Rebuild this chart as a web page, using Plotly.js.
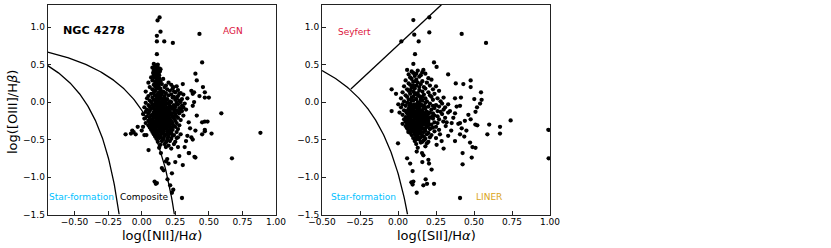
<!DOCTYPE html>
<html>
<head>
<meta charset="utf-8">
<script src="https://cdn.plot.ly/plotly-3.0.1.min.js"></script>
<style>html,body{margin:0;padding:0;background:#fff;}#plot{width:831px;height:248px;}</style>
</head>
<body>
<div id="plot"></div>
<script>
// ---------- data: [log([NII]/Ha), log([OIII]/Hb)] ----------
const niiCore = [
[0.09,0.51],[0.10,0.49],[0.12,0.50],[0.08,0.46],[0.115,0.47],[0.13,0.45],[0.10,0.43],[0.12,0.42],[0.14,0.44],
[0.085,0.39],[0.105,0.40],[0.125,0.38],[0.135,0.41],[0.09,0.36],[0.10,0.37],[0.11,0.35],[0.12,0.37],[0.13,0.36],
[0.095,0.33],[0.115,0.34],[0.13,0.32],[0.07,0.33],[0.08,0.29],[0.11,0.30],[0.14,0.28],[0.16,0.31],
[0.05,0.26],[0.10,0.27],[0.12,0.25],[0.13,0.27],[0.20,0.26],[0.09,0.23],[0.15,0.24],[0.18,0.22],[0.22,0.23],
[0.06,0.20],[0.11,0.21],[0.13,0.19],[0.17,0.20],[0.26,0.21],[0.08,0.17],[0.12,0.18],[0.14,0.16],[0.19,0.17],[0.23,0.18],
[0.03,0.14],[0.10,0.15],[0.13,0.13],[0.16,0.14],[0.21,0.15],[0.25,0.13],
[0.07,0.11],[0.09,0.12],[0.12,0.10],[0.15,0.11],[0.18,0.12],[0.22,0.10],[0.28,0.11],
[0.05,0.08],[0.10,0.09],[0.13,0.07],[0.17,0.08],[0.20,0.09],[0.24,0.07],[0.27,0.08],
[0.04,0.05],[0.08,0.06],[0.11,0.04],[0.14,0.06],[0.16,0.05],[0.19,0.04],[0.23,0.06],[0.26,0.05],[0.30,0.04],
[0.06,0.02],[0.09,0.03],[0.12,0.01],[0.15,0.03],[0.18,0.02],[0.21,0.01],[0.25,0.03],[0.28,0.02],
[0.03,-0.01],[0.07,0.00],[0.10,-0.02],[0.12,0.00],[0.14,-0.01],[0.17,0.00],[0.20,-0.02],[0.22,0.00],[0.26,-0.01],[0.29,0.00],[0.32,-0.02],
[0.05,-0.04],[0.08,-0.03],[0.11,-0.05],[0.13,-0.03],[0.15,-0.04],[0.18,-0.03],[0.21,-0.05],[0.24,-0.04],[0.27,-0.03],[0.30,-0.05],
[0.02,-0.07],[0.06,-0.06],[0.09,-0.08],[0.12,-0.06],[0.14,-0.07],[0.16,-0.06],[0.19,-0.08],[0.22,-0.07],[0.25,-0.06],[0.28,-0.08],[0.31,-0.07],
[0.04,-0.10],[0.07,-0.09],[0.10,-0.11],[0.12,-0.09],[0.13,-0.10],[0.15,-0.09],[0.17,-0.11],[0.20,-0.10],[0.23,-0.09],[0.26,-0.11],[0.29,-0.10],
[0.03,-0.13],[0.06,-0.12],[0.09,-0.14],[0.11,-0.12],[0.13,-0.13],[0.14,-0.12],[0.16,-0.14],[0.18,-0.13],[0.21,-0.12],[0.24,-0.14],[0.27,-0.13],[0.30,-0.12],
[0.01,-0.16],[0.05,-0.15],[0.08,-0.17],[0.10,-0.15],[0.12,-0.16],[0.14,-0.15],[0.15,-0.17],[0.17,-0.16],[0.19,-0.15],[0.22,-0.17],[0.25,-0.16],[0.28,-0.15],
[0.04,-0.19],[0.07,-0.18],[0.09,-0.20],[0.11,-0.18],[0.13,-0.19],[0.15,-0.18],[0.16,-0.20],[0.18,-0.19],[0.20,-0.18],[0.23,-0.20],[0.26,-0.19],[0.31,-0.18],
[0.02,-0.22],[0.06,-0.21],[0.08,-0.23],[0.10,-0.21],[0.12,-0.22],[0.14,-0.21],[0.16,-0.23],[0.17,-0.22],[0.19,-0.21],[0.21,-0.23],[0.24,-0.22],[0.27,-0.21],
[0.05,-0.25],[0.07,-0.24],[0.09,-0.26],[0.11,-0.24],[0.13,-0.25],[0.15,-0.24],[0.17,-0.26],[0.18,-0.25],[0.20,-0.24],[0.22,-0.26],[0.25,-0.25],[0.29,-0.24],
[0.03,-0.28],[0.06,-0.27],[0.08,-0.29],[0.10,-0.27],[0.12,-0.28],[0.14,-0.27],[0.16,-0.29],[0.18,-0.28],[0.20,-0.27],[0.23,-0.29],[0.26,-0.28],
[0.05,-0.31],[0.07,-0.30],[0.09,-0.32],[0.11,-0.30],[0.13,-0.31],[0.15,-0.30],[0.17,-0.32],[0.19,-0.31],[0.21,-0.30],[0.24,-0.32],[0.28,-0.31],
[0.06,-0.34],[0.08,-0.33],[0.10,-0.35],[0.12,-0.33],[0.14,-0.34],[0.16,-0.33],[0.18,-0.35],[0.22,-0.34],[0.25,-0.33],
[0.07,-0.37],[0.09,-0.36],[0.11,-0.38],[0.13,-0.36],[0.15,-0.37],[0.17,-0.36],[0.20,-0.38],[0.23,-0.37],[0.27,-0.36],
[0.08,-0.40],[0.10,-0.39],[0.12,-0.41],[0.14,-0.39],[0.16,-0.40],[0.19,-0.39],[0.22,-0.41],[0.26,-0.40],
[0.09,-0.43],[0.11,-0.42],[0.13,-0.44],[0.15,-0.42],[0.18,-0.43],[0.21,-0.42],[0.24,-0.44],[0.29,-0.43],
[0.10,-0.46],[0.12,-0.45],[0.14,-0.47],[0.17,-0.45],[0.20,-0.46],[0.23,-0.45],[0.27,-0.47],
[0.11,-0.49],[0.13,-0.48],[0.16,-0.50],[0.19,-0.48],[0.22,-0.49],[0.26,-0.48],
[0.12,-0.53],[0.15,-0.52],[0.18,-0.54],[0.21,-0.52],[0.25,-0.53],
[0.14,-0.57],[0.17,-0.56],[0.20,-0.58],[0.24,-0.56],[0.13,-0.61],[0.18,-0.60],[0.22,-0.62],[0.27,-0.60]
];
const niiDense = [
[0.085,-0.05],[0.095,-0.12],[0.105,-0.17],[0.115,-0.24],[0.125,-0.29],[0.135,-0.33],[0.145,-0.2],[0.155,-0.26],[0.165,-0.31],[0.175,-0.14],[0.185,-0.22],[0.195,-0.28],
[0.09,-0.27],[0.1,-0.31],[0.11,-0.09],[0.12,-0.03],[0.13,-0.16],[0.14,-0.29],[0.15,-0.35],[0.16,-0.11],[0.17,-0.19],[0.18,-0.24],[0.19,-0.07],[0.2,-0.33],
[0.095,-0.2],[0.105,-0.26],[0.115,-0.14],[0.125,-0.07],[0.135,-0.23],[0.145,-0.28],[0.155,-0.13],[0.165,-0.04],[0.175,-0.27],[0.185,-0.35],[0.195,-0.17],[0.205,-0.21],
[0.088,-0.16],[0.098,-0.36],[0.108,-0.04],[0.118,-0.19],[0.128,-0.38],[0.138,-0.11],[0.148,-0.05],[0.158,-0.39],[0.168,-0.25],[0.178,-0.08],[0.188,-0.29],[0.198,-0.13],
[0.102,0.02],[0.112,0.07],[0.122,0.12],[0.132,0.04],[0.142,0.09],[0.152,-0.02],[0.162,0.01],[0.172,0.05],[0.182,-0.01],
[0.092,0.15],[0.102,0.2],[0.112,0.25],[0.118,0.3],[0.108,0.33],[0.098,0.38],[0.128,0.23],[0.138,0.18],[0.148,0.14],[0.09,0.42],[0.105,0.45],[0.1,0.35],
[0.215,-0.15],[0.225,-0.27],[0.235,-0.19],[0.215,-0.36],[0.225,-0.08],[0.235,-0.32],[0.245,-0.1],[0.2,-0.41],[0.17,-0.43],[0.14,-0.45],[0.16,-0.48],[0.19,-0.51]
];
const niiOutliers = [
[0.133,1.13],[0.118,1.09],[0.14,0.94],[0.113,0.885],[0.113,0.81],[0.168,0.81],[0.232,0.79],[0.43,0.91],[0.113,0.64],[0.45,0.53],
[0.40,0.38],[0.41,0.29],[0.456,0.20],[0.306,0.24],[0.236,0.20],[0.241,0.14],[0.37,0.15],[0.38,0.11],[0.39,0.13],[0.47,0.13],[0.47,0.06],[0.50,0.06],[0.43,0.08],
[0.593,-0.15],[0.45,-0.27],[0.47,-0.26],[0.49,-0.26],[0.47,-0.37],[0.47,-0.39],[0.45,-0.43],[0.52,-0.42],[0.884,-0.41],[0.672,-0.75],[0.393,-0.73],[0.353,-0.68],[0.306,-0.84],
[-0.12,-0.43],[-0.06,-0.40],[-0.045,-0.43],[-0.03,-0.33],[0.0,-0.38],[0.02,-0.44],[0.035,-0.44],[-0.07,-0.38],[-0.08,-0.42],[0.01,-0.33],
[0.051,-0.64],[0.143,-0.68],[0.163,-0.91],[0.18,-0.79],[0.225,-0.95],[0.096,-1.06],[0.105,-1.09],[0.113,-1.08],[0.192,-1.03],[0.212,-1.11],[0.3,-1.28],[0.225,-1.21],
[0.35,-0.68],[0.40,-0.74],[0.2,-0.82],[0.19,-0.76],[0.25,-0.80],[0.28,-0.72],[0.32,-0.60],[0.34,-0.45],[0.37,-0.47],[0.38,-0.50],[0.33,-0.52],[0.40,-0.38],
[0.35,-0.27],[0.36,-0.35],[0.41,-0.18],[0.38,-0.05],[0.39,0.0],[0.34,0.05],[0.31,0.10],[0.27,0.16],[0.29,0.12],[0.33,-0.10],[0.15,-0.88],[0.235,-1.17]
];
// ---------- data: [log([SII]/Ha), log([OIII]/Hb)] ----------
const siiCore = [
[0.06,0.43],[0.09,0.41],[0.13,0.42],[0.16,0.40],[0.07,0.37],[0.10,0.39],[0.12,0.38],[0.15,0.36],[0.18,0.38],
[0.08,0.33],[0.11,0.35],[0.14,0.34],[0.20,0.32],[0.05,0.29],[0.09,0.31],[0.12,0.30],[0.16,0.28],[0.22,0.30],
[0.07,0.25],[0.10,0.27],[0.13,0.26],[0.15,0.24],[0.19,0.26],[0.04,0.21],[0.08,0.23],[0.12,0.22],[0.17,0.20],[0.21,0.22],[0.25,0.21],
[0.06,0.17],[0.09,0.19],[0.11,0.18],[0.14,0.16],[0.18,0.18],[0.23,0.17],
[0.03,0.13],[0.07,0.15],[0.10,0.14],[0.13,0.12],[0.16,0.14],[0.20,0.13],[0.27,0.15],
[0.05,0.09],[0.08,0.11],[0.11,0.10],[0.14,0.08],[0.17,0.10],[0.21,0.09],[0.24,0.11],
[0.02,0.05],[0.06,0.07],[0.09,0.06],[0.12,0.04],[0.15,0.06],[0.18,0.05],[0.22,0.07],[0.26,0.05],[0.30,0.06],
[0.04,0.01],[0.07,0.03],[0.10,0.02],[0.13,0.00],[0.16,0.02],[0.19,0.01],[0.23,0.03],[0.28,0.01],
[0.03,-0.03],[0.06,-0.01],[0.08,-0.02],[0.11,-0.04],[0.13,-0.02],[0.15,-0.03],[0.18,-0.01],[0.21,-0.02],[0.25,-0.04],[0.29,-0.02],[0.33,-0.03],
[0.02,-0.07],[0.05,-0.05],[0.08,-0.06],[0.10,-0.08],[0.12,-0.06],[0.14,-0.07],[0.17,-0.05],[0.20,-0.06],[0.24,-0.08],[0.27,-0.06],[0.31,-0.07],
[0.04,-0.11],[0.07,-0.09],[0.09,-0.10],[0.11,-0.12],[0.13,-0.10],[0.15,-0.11],[0.18,-0.09],[0.22,-0.10],[0.26,-0.12],[0.30,-0.10],
[0.01,-0.14],[0.05,-0.12],[0.08,-0.13],[0.10,-0.15],[0.12,-0.13],[0.14,-0.14],[0.16,-0.12],[0.19,-0.13],[0.23,-0.15],[0.28,-0.13],[0.33,-0.14],
[0.03,-0.17],[0.06,-0.15],[0.09,-0.16],[0.11,-0.18],[0.13,-0.16],[0.15,-0.17],[0.17,-0.15],[0.20,-0.16],[0.24,-0.18],[0.29,-0.16],
[0.05,-0.20],[0.07,-0.18],[0.09,-0.19],[0.11,-0.21],[0.13,-0.19],[0.14,-0.20],[0.16,-0.18],[0.18,-0.19],[0.21,-0.21],[0.26,-0.19],
[0.04,-0.23],[0.06,-0.21],[0.08,-0.22],[0.10,-0.24],[0.12,-0.22],[0.14,-0.23],[0.15,-0.21],[0.17,-0.22],[0.19,-0.24],[0.23,-0.22],[0.27,-0.23],[0.31,-0.21],
[0.05,-0.26],[0.07,-0.24],[0.09,-0.25],[0.11,-0.27],[0.13,-0.25],[0.15,-0.26],[0.17,-0.24],[0.20,-0.25],[0.24,-0.27],
[0.03,-0.29],[0.06,-0.27],[0.08,-0.28],[0.10,-0.30],[0.12,-0.28],[0.14,-0.29],[0.16,-0.27],[0.18,-0.28],[0.22,-0.30],[0.26,-0.28],
[0.05,-0.32],[0.07,-0.30],[0.09,-0.31],[0.11,-0.33],[0.13,-0.31],[0.15,-0.32],[0.17,-0.30],[0.20,-0.31],[0.25,-0.33],
[0.06,-0.35],[0.08,-0.33],[0.10,-0.34],[0.12,-0.36],[0.14,-0.34],[0.16,-0.35],[0.19,-0.33],[0.23,-0.34],
[0.07,-0.38],[0.09,-0.36],[0.11,-0.37],[0.13,-0.39],[0.15,-0.37],[0.18,-0.38],[0.21,-0.36],[0.27,-0.37],
[0.08,-0.41],[0.10,-0.39],[0.12,-0.40],[0.14,-0.42],[0.17,-0.40],[0.20,-0.41],[0.24,-0.39],
[0.09,-0.44],[0.11,-0.42],[0.13,-0.43],[0.16,-0.45],[0.19,-0.43],[0.22,-0.44],
[0.10,-0.48],[0.12,-0.46],[0.15,-0.47],[0.18,-0.49],[0.21,-0.47],[0.25,-0.48],
[0.11,-0.52],[0.14,-0.50],[0.17,-0.51],[0.20,-0.53],[0.12,-0.56],[0.15,-0.54],[0.19,-0.55],[0.13,-0.61],[0.18,-0.59]
];
const siiDense = [
[0.075,-0.05],[0.085,-0.12],[0.095,-0.17],[0.105,-0.24],[0.115,-0.29],[0.125,-0.33],[0.135,-0.2],[0.145,-0.26],[0.155,-0.31],[0.165,-0.14],[0.175,-0.22],[0.185,-0.28],
[0.08,-0.27],[0.09,-0.31],[0.1,-0.09],[0.11,-0.03],[0.12,-0.16],[0.13,-0.29],[0.14,-0.35],[0.15,-0.11],[0.16,-0.19],[0.17,-0.24],[0.18,-0.07],[0.19,-0.33],
[0.085,-0.2],[0.095,-0.26],[0.105,-0.14],[0.115,-0.07],[0.125,-0.23],[0.135,-0.28],[0.145,-0.13],[0.155,-0.04],[0.165,-0.27],[0.175,-0.35],[0.185,-0.17],[0.195,-0.21],
[0.078,-0.16],[0.088,-0.36],[0.098,-0.04],[0.108,-0.19],[0.118,-0.38],[0.128,-0.11],[0.138,-0.05],[0.148,-0.39],[0.158,-0.25],[0.168,-0.08],[0.178,-0.29],[0.188,-0.13],
[0.065,-0.22],[0.07,-0.33],[0.062,-0.12],[0.058,-0.28],[0.068,-0.4],[0.2,-0.28],[0.21,-0.14],[0.215,-0.35],[0.225,-0.19],[0.23,-0.05],
[0.09,0.02],[0.1,0.07],[0.11,0.12],[0.12,0.04],[0.13,0.09],[0.14,-0.01],[0.15,0.03],[0.16,0.07],[0.08,0.16],[0.1,0.22],[0.12,0.28],[0.14,0.2],
[0.11,-0.43],[0.13,-0.47],[0.15,-0.42],[0.17,-0.46],[0.12,-0.5],[0.16,-0.53]
];
const siiOutliers = [
[0.101,1.095],[0.206,1.13],[0.206,0.93],[0.107,0.90],[0.136,0.81],[0.022,0.81],[0.419,0.91],[0.579,0.79],[0.112,0.64],
[0.101,0.51],[0.167,0.43],[0.237,0.53],[0.254,0.47],[0.33,0.37],[0.38,0.25],[0.43,0.24],[0.478,0.29],[0.478,0.20],
[-0.042,0.17],[-0.013,0.11],[0.375,0.05],[0.414,0.06],[0.546,0.13],[0.55,0.03],[0.54,-0.02],[0.52,-0.07],[0.51,-0.13],[0.502,0.04],
[0.741,-0.245],[0.60,-0.30],[0.671,-0.33],[0.671,-0.42],[0.588,-0.43],[0.989,-0.37],[0.991,-0.75],[0.0,-0.55],[-0.042,-0.12],[0.002,-0.03],
[0.096,-0.92],[0.088,-1.07],[0.096,-1.10],[0.101,-1.06],[0.123,-1.21],[0.167,-1.11],[0.182,-1.03],[0.191,-1.09],[0.237,-1.09],[0.221,-0.90],
[0.20,-0.77],[0.204,-0.82],[0.16,-0.80],[0.167,-0.71],[0.123,-0.66],[0.158,-0.68],[0.408,-1.28],[0.425,-0.68],[0.425,-0.83],[0.485,-0.74],
[0.474,-0.54],[0.49,-0.60],[0.51,-0.61],[0.375,-0.52],[0.408,-0.43],[0.436,-0.46],[0.509,-0.30],[0.522,-0.31],[0.478,-0.23],[0.463,-0.17],
[0.386,-0.06],[0.408,-0.05],[0.342,-0.12],[0.375,-0.15],[0.364,-0.21],[0.298,-0.26],[0.32,-0.27],[0.314,-0.32],[0.353,-0.28],[0.397,-0.29],
[0.419,-0.35],[0.408,-0.28],[0.276,-0.43],[0.287,-0.52],[0.254,-0.57],[0.45,-0.38],[0.44,-0.25],[0.35,-0.38],[0.33,-0.45],[0.30,-0.62],[0.06,-0.75],[0.08,-0.82]
];
// axis ranges and ticks
const niiRange = [-0.7, 1.0];
const siiRange = [-0.5, 1.0];
const oiiiRange = [-1.5, 1.3];
const xTicks = [-0.5, -0.25, 0, 0.25, 0.5, 0.75, 1.0];
const yTicks = [-1.5, -1.0, -0.5, 0, 0.5, 1.0];
// demarcation line coefficients (Kauffmann 2003, Kewley 2001/2006)
const kauffNII = {a: 0.61, b: 0.05, c: 1.30};
const kewleyNII = {a: 0.61, b: 0.47, c: 1.19};
const kewleySII = {a: 0.72, b: 0.32, c: 1.30};
const seyLinerSII = {m: 1.89, q: 0.76, x0: -0.31};

function hyper(p, x0, yMin) {
  const xEnd = p.b + p.a / (yMin - p.c);
  const xs = [], ys = [];
  const n = 120;
  for (let i = 0; i <= n; i++) {
    const x = x0 + (xEnd - x0) * i / n;
    xs.push(x); ys.push(p.a / (x - p.b) + p.c);
  }
  return {x: xs, y: ys};
}
const curveStyle = {color: '#000', width: 1.3};
const mk = {color: '#000', size: 4.3};
const c1 = hyper(kauffNII, niiRange[0], oiiiRange[0]);
const c2 = hyper(kewleyNII, niiRange[0], oiiiRange[0]);
const c3 = hyper(kewleySII, siiRange[0], oiiiRange[0]);
const sx1 = (oiiiRange[1] - seyLinerSII.q) / seyLinerSII.m;
const nii = niiCore.concat(niiDense, niiOutliers);
const sii = siiCore.concat(siiDense, siiOutliers);

const traces = [
  {x: c1.x, y: c1.y, mode: 'lines', line: curveStyle, xaxis: 'x', yaxis: 'y', hoverinfo: 'skip'},
  {x: c2.x, y: c2.y, mode: 'lines', line: curveStyle, xaxis: 'x', yaxis: 'y', hoverinfo: 'skip'},
  {x: nii.map(p => p[0]), y: nii.map(p => p[1]), mode: 'markers', marker: mk, xaxis: 'x', yaxis: 'y'},
  {x: c3.x, y: c3.y, mode: 'lines', line: curveStyle, xaxis: 'x2', yaxis: 'y2', hoverinfo: 'skip'},
  {x: [seyLinerSII.x0, sx1], y: [seyLinerSII.m * seyLinerSII.x0 + seyLinerSII.q, oiiiRange[1]], mode: 'lines', line: curveStyle, xaxis: 'x2', yaxis: 'y2'},
  {x: sii.map(p => p[0]), y: sii.map(p => p[1]), mode: 'markers', marker: mk, xaxis: 'x2', yaxis: 'y2'}
];

const F = 'DejaVu Sans, sans-serif';
const axBase = {
  showgrid: false, zeroline: false, showline: true, linecolor: '#222', linewidth: 1, mirror: true,
  ticks: 'inside', ticklen: 3.5, tickwidth: 1, tickcolor: '#222',
  tickfont: {family: F, size: 9, color: '#000'}
};
const W = 831, H = 248;
const yDom = [(H - 214.5) / H, (H - 4.7) / H];
const dx1 = [47.7 / W, 276 / W], dx2 = [322 / W, 550 / W];
const ttl = {xref: 'paper', yref: 'paper', showarrow: false, xanchor: 'center', yanchor: 'middle', font: {family: F, size: 13, color: '#000'}};
const layout = {
  width: W, height: H, margin: {l: 0, r: 0, t: 0, b: 0},
  paper_bgcolor: '#fff', plot_bgcolor: '#fff', showlegend: false,
  font: {family: F, color: '#000'},
  xaxis: Object.assign({}, axBase, {domain: dx1, range: niiRange, tickvals: xTicks, tickformat: '.2f', anchor: 'y', ticklabelstandoff: -1}),
  yaxis: Object.assign({}, axBase, {domain: yDom, range: oiiiRange, tickvals: yTicks, tickformat: '.1f', anchor: 'x'}),
  xaxis2: Object.assign({}, axBase, {domain: dx2, range: siiRange, tickvals: xTicks, tickformat: '.2f', anchor: 'y2', ticklabelstandoff: -1}),
  yaxis2: Object.assign({}, axBase, {domain: yDom, range: oiiiRange, tickvals: yTicks, tickformat: '.1f', anchor: 'x2'}),
  annotations: [
    {text: '<b>NGC 4278</b>', x: -0.6, y: 0.95, xref: 'x', yref: 'y', xanchor: 'left', yanchor: 'middle', showarrow: false, font: {family: F, size: 11.2, color: '#000'}},
    {text: 'AGN', x: 0.68, y: 0.95, xref: 'x', yref: 'y', showarrow: false, font: {family: F, size: 9, color: '#DC143C'}},
    {text: 'Star-formation', x: -0.446, y: -1.26, xref: 'x', yref: 'y', showarrow: false, font: {family: F, size: 9, color: '#00BFFF'}},
    {text: 'Composite', x: 0.016, y: -1.26, xref: 'x', yref: 'y', showarrow: false, font: {family: F, size: 9, color: '#000'}},
    {text: 'Seyfert', x: -0.285, y: 0.94, xref: 'x2', yref: 'y2', showarrow: false, font: {family: F, size: 9, color: '#DC143C'}},
    {text: 'Star-formation', x: -0.224, y: -1.26, xref: 'x2', yref: 'y2', showarrow: false, font: {family: F, size: 9, color: '#00BFFF'}},
    {text: 'LINER', x: 0.597, y: -1.26, xref: 'x2', yref: 'y2', showarrow: false, font: {family: F, size: 9, color: '#DAA520'}},
    Object.assign({}, ttl, {text: 'log([NII]/H<i>α</i>)', x: (dx1[0] + dx1[1]) / 2, y: (H - 235) / H}),
    Object.assign({}, ttl, {text: 'log([SII]/H<i>α</i>)', x: (dx2[0] + dx2[1]) / 2, y: (H - 235) / H}),
    Object.assign({}, ttl, {text: 'log([OIII]/H<i>β</i>)', x: 12 / W, y: (H - 112) / H, textangle: -90})
  ]
};
Plotly.newPlot('plot', traces, layout, {staticPlot: true, displayModeBar: false});
</script>
</body>
</html>
